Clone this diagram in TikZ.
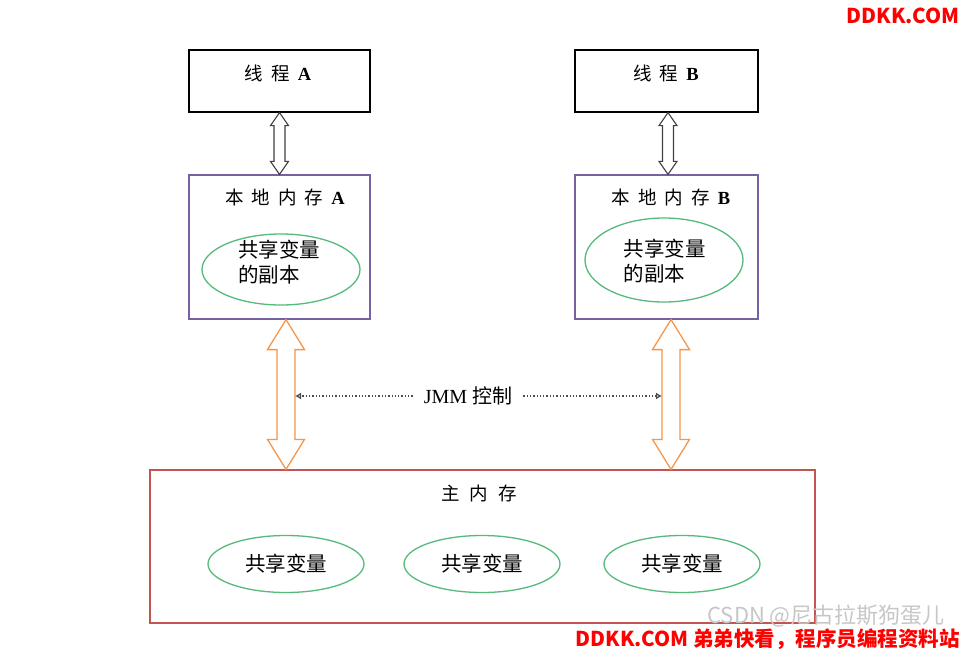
\documentclass[tikz,border=0pt]{standalone}
\usepackage{fontspec}
\setmainfont{Liberation Serif}
\newfontfamily\cjk{Noto Sans CJK SC}
\usetikzlibrary{arrows.meta,calc,shapes.geometric}
\definecolor{purp}{RGB}{118,98,160}
\definecolor{grn}{RGB}{86,186,122}
\definecolor{orng}{RGB}{245,150,75}
\definecolor{redb}{RGB}{196,84,80}
\definecolor{wmred}{RGB}{255,0,0}
\newcommand\blockarrow[6]{%
  \draw[#1] (#2) -- ++(#5,#6) -- ++(#4-#5,0) -- ($(#3)+(#4,-#6)$) -- ++(#5-#4,0)
    -- (#3) -- ++(-#5,-#6) -- ++(#5-#4,0) -- ($(#2)+(-#4,#6)$) -- ++(#4-#5,0) -- cycle;}
\begin{document}
\begin{tikzpicture}[x=1pt,y=-1pt,
  thbox/.style={draw=black,line width=1.2pt,minimum width=181pt,minimum height=62pt,inner sep=0pt},
  locbox/.style={draw=purp,line width=1.2pt,minimum width=181pt,minimum height=144pt,inner sep=0pt},
  mainbox/.style={draw=redb,line width=1.2pt,minimum width=665pt,minimum height=153pt,inner sep=0pt},
  ell/.style={ellipse,draw=grn,line width=1.3pt,inner sep=0pt},
  lbl/.style={inner sep=0pt,font=\fontsize{18.5}{22}\selectfont},
  etxt/.style={inner sep=0pt,align=left,font=\fontsize{20.5}{25}\selectfont\cjk},
  blk/.style={draw=black!75,line width=1.1pt,fill=white,line join=miter},
  org/.style={draw=orng,line width=1.3pt,fill=white,line join=miter},
  jmmline/.style={draw=black!70,dotted,line width=1.3pt,-{Latex[open,length=6pt,width=7pt]}},
  wm/.style={inner sep=0pt,text=wmred,font=\fontsize{20.5}{24}\selectfont\cjk\bfseries}
]
\useasboundingbox (0,0) rectangle (962,651);
\fill[white] (0,0) rectangle (962,651);

% boxes
\node[thbox] (tA) at (279.5,81) {};
\node[thbox,minimum width=183pt] (tB) at (666.5,81) {};
\node[locbox] (lA) at (279.5,247) {};
\node[locbox,minimum width=183pt] (lB) at (666.5,247) {};
\node[mainbox] (main) at (482.5,546.5) {};

% labels
\node[lbl] (tAt) at (278,73) {{\cjk 线\hspace{8pt}程}\hspace{8pt}\textbf{A}};
\node[lbl] (tBt) at (666,73) {{\cjk 线\hspace{8pt}程}\hspace{8pt}\textbf{B}};
\node[lbl] (lAt) at (285,197) {{\cjk 本\hspace{8pt}地\hspace{8pt}内\hspace{8pt}存}\hspace{8pt}\textbf{A}};
\node[lbl] (lBt) at (671,197) {{\cjk 本\hspace{8pt}地\hspace{8pt}内\hspace{8pt}存}\hspace{8pt}\textbf{B}};
\node[lbl] (mt) at (479,493) {{\cjk 主\hspace{10pt}内\hspace{10pt}存}};

% ellipses in local memories
\node[ell,minimum width=158pt,minimum height=71pt] (eA) at (281,269.5) {};
\node[etxt] (eAt) at (279,262.5) {共享变量\\的副本};
\node[ell,minimum width=158pt,minimum height=84pt] (eB) at (664,260) {};
\node[etxt] (eBt) at (664.5,261.5) {共享变量\\的副本};

% ellipses in main memory
\node[ell,minimum width=156pt,minimum height=57pt,etxt,align=center] (m1) at (286,564) {共享变量};
\node[ell,minimum width=156pt,minimum height=57pt,etxt,align=center] (m2) at (482,564) {共享变量};
\node[ell,minimum width=156pt,minimum height=57pt,etxt,align=center] (m3) at (682,564) {共享变量};

% thread <-> local arrows
\blockarrow{blk}{tA.south}{lA.north}{5.5}{9}{13}
\coordinate (bBt) at ($(tB.south)+(1.5,0)$);
\coordinate (bBb) at (bBt |- lB.north);
\blockarrow{blk}{bBt}{bBb}{5.5}{9}{13}

% local <-> main arrows
\coordinate (oAt) at ($(lA.south)+(6.5,0)$);
\coordinate (oAb) at (oAt |- main.north);
\coordinate (oBt) at ($(lB.south)+(4.5,0)$);
\coordinate (oBb) at (oBt |- main.north);
\blockarrow{org}{oAt}{oAb}{9}{18.5}{30}
\blockarrow{org}{oBt}{oBb}{9}{18.5}{30}

% JMM control
\node[inner xsep=11pt,inner ysep=0pt,font=\fontsize{20}{24}\selectfont] (jmm) at (468,396) {JMM {\cjk 控制}};
\coordinate (jA) at ($(oAt)!0.5!(oAb)+(9,0)$);
\coordinate (jB) at ($(oBt)!0.5!(oBb)+(-9,0)$);
\draw[jmmline] (jmm.west) -- (jA |- jmm.west);
\draw[jmmline] (jmm.east) -- (jB |- jmm.east);

% watermarks
\node[inner sep=0pt,anchor=east,text=black!22,font=\fontsize{22}{24}\selectfont\cjk] (csdn) at (945,616) {CSDN @尼古拉斯狗蛋儿};
\node[wm,anchor=east] (wm1) at (960,16) {DDKK.COM};
\node[wm,anchor=east] (wm2) at (960,639) {DDKK.COM 弟弟快看，程序员编程资料站};
\end{tikzpicture}
\end{document}
